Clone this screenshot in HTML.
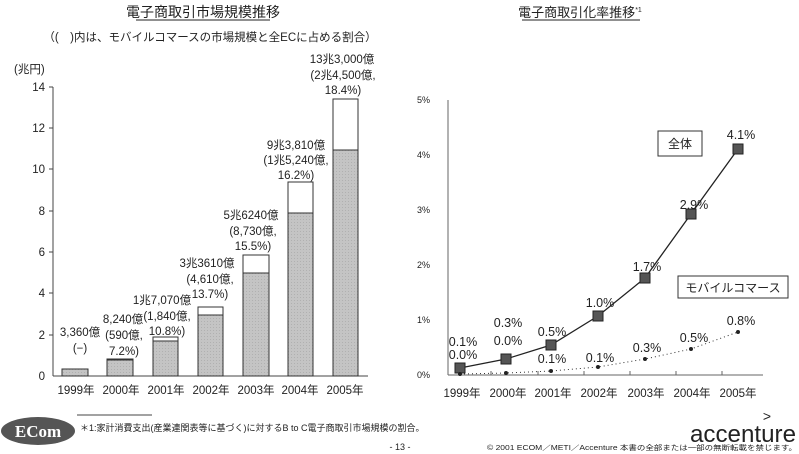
<!DOCTYPE html>
<html><head><meta charset="utf-8"><style>
body{margin:0;background:#fff;}
svg{display:block;font-family:"Liberation Sans","Noto Sans CJK JP",sans-serif;}
</style></head><body>
<svg width="799" height="454" viewBox="0 0 799 454">
<defs><pattern id="g" width="3" height="3" patternUnits="userSpaceOnUse"><rect width="3" height="3" fill="#c4c4c4"/><rect width="1" height="1" fill="#b0b0b0"/></pattern></defs>
<g fill="#222" font-size="12">
<text x="203" y="17" text-anchor="middle" font-size="14">電子商取引市場規模推移</text>
<line x1="136" y1="20" x2="270" y2="20" stroke="#222"/>
<text x="210" y="41" text-anchor="middle" font-size="11.5">（(　)内は、モバイルコマースの市場規模と全ECに占める割合）</text>
<text x="14" y="73" font-size="11.5">(兆円)</text>
</g>
<g stroke="#444" fill="none">
<line x1="53" y1="87" x2="53" y2="376"/><line x1="53" y1="376" x2="368" y2="376"/>
</g>
<g font-size="11.5" fill="#222" text-anchor="end">
<text x="45" y="380">0</text><text x="45" y="339">2</text><text x="45" y="297">4</text><text x="45" y="256">6</text><text x="45" y="215">8</text><text x="45" y="173">10</text><text x="45" y="132">12</text><text x="45" y="91">14</text>
</g>
<g stroke="#444"><line x1="49" y1="87" x2="53" y2="87"/><line x1="49" y1="128" x2="53" y2="128"/><line x1="49" y1="169" x2="53" y2="169"/><line x1="49" y1="211" x2="53" y2="211"/><line x1="49" y1="252" x2="53" y2="252"/><line x1="49" y1="293" x2="53" y2="293"/><line x1="49" y1="335" x2="53" y2="335"/></g>
<g stroke="#333" stroke-width="1">
<rect x="62" y="369" width="26" height="7" fill="url(#g)"/>
<rect x="107" y="359" width="26" height="17" fill="url(#g)"/><rect x="107" y="359" width="26" height="1" fill="#fff"/>
<rect x="153" y="341" width="25" height="35" fill="url(#g)"/><rect x="153" y="337" width="25" height="4" fill="#fff"/>
<rect x="198" y="315" width="25" height="61" fill="url(#g)"/><rect x="198" y="307" width="25" height="8" fill="#fff"/>
<rect x="243" y="273" width="26" height="103" fill="url(#g)"/><rect x="243" y="255" width="26" height="18" fill="#fff"/>
<rect x="288" y="213" width="25" height="163" fill="url(#g)"/><rect x="288" y="182" width="25" height="31" fill="#fff"/>
<rect x="333" y="150" width="25" height="226" fill="url(#g)"/><rect x="333" y="99" width="25" height="51" fill="#fff"/>
</g>
<g font-size="11.5" fill="#222" text-anchor="middle">
<text x="76" y="394">1999年</text><text x="121" y="394">2000年</text><text x="166" y="394">2001年</text><text x="211" y="394">2002年</text><text x="256" y="394">2003年</text><text x="300" y="394">2004年</text><text x="345" y="394">2005年</text>
<text x="80" y="336">3,360億</text><text x="80" y="352">(−)</text>
<text x="123" y="323">8,240億</text><text x="124" y="339">(590億,</text><text x="124" y="355">7.2%)</text>
<text x="162" y="304">1兆7,070億</text><text x="167" y="320">(1,840億,</text><text x="167" y="335">10.8%)</text>
<text x="207" y="267">3兆3610億</text><text x="210" y="283">(4,610億,</text><text x="210" y="298">13.7%)</text>
<text x="251" y="219">5兆6240億</text><text x="253" y="235">(8,730億,</text><text x="253" y="250">15.5%)</text>
<text x="296" y="149">9兆3,810億</text><text x="296" y="164">(1兆5,240億,</text><text x="296" y="179">16.2%)</text>
<text x="342" y="63">13兆3,000億</text><text x="343" y="79">(2兆4,500億,</text><text x="343" y="94">18.4%)</text>
</g>
<!-- right chart -->
<g fill="#222">
<text x="580" y="17" text-anchor="middle" font-size="13">電子商取引化率推移<tspan font-size="7" dy="-5">*1</tspan></text>
<line x1="522" y1="20" x2="640" y2="20" stroke="#222"/>
</g>
<g stroke="#666" fill="none"><line x1="448" y1="100" x2="448" y2="375"/><line x1="448" y1="375" x2="763" y2="375"/>
<line x1="491" y1="375" x2="491" y2="371"/><line x1="538" y1="375" x2="538" y2="371"/><line x1="584" y1="375" x2="584" y2="371"/><line x1="630" y1="375" x2="630" y2="371"/><line x1="676" y1="375" x2="676" y2="371"/><line x1="722" y1="375" x2="722" y2="371"/></g>
<g font-size="9" fill="#222" text-anchor="end">
<text x="430" y="378">0%</text><text x="430" y="323">1%</text><text x="430" y="268">2%</text><text x="430" y="213">3%</text><text x="430" y="158">4%</text><text x="430" y="103">5%</text>
</g>
<g font-size="11.5" fill="#222" text-anchor="middle">
<text x="462" y="397">1999年</text><text x="508" y="397">2000年</text><text x="553" y="397">2001年</text><text x="599" y="397">2002年</text><text x="646" y="397">2003年</text><text x="692" y="397">2004年</text><text x="738" y="397">2005年</text>
</g>
<polyline points="460,368 506,359 551,345 598,316 645,278 691,214 738,149" fill="none" stroke="#222" stroke-width="1.3"/>
<g fill="#555" stroke="#222"><rect x="455" y="363" width="10" height="10"/><rect x="501" y="354" width="10" height="10"/><rect x="546" y="340" width="10" height="10"/><rect x="593" y="311" width="10" height="10"/><rect x="640" y="273" width="10" height="10"/><rect x="686" y="209" width="10" height="10"/><rect x="733" y="144" width="10" height="10"/></g>
<polyline points="460,374 506,373 551,371 598,367 645,359 691,349 738,332" fill="none" stroke="#333" stroke-dasharray="1,3"/>
<g fill="#222"><circle cx="460" cy="374" r="2"/><circle cx="506" cy="373" r="2"/><circle cx="551" cy="371" r="2"/><circle cx="598" cy="367" r="2"/><circle cx="645" cy="359" r="2"/><circle cx="691" cy="349" r="2"/><circle cx="738" cy="332" r="2"/></g>
<g font-size="12.5" fill="#222" text-anchor="middle">
<text x="463" y="346">0.1%</text><text x="463" y="359">0.0%</text>
<text x="508" y="327">0.3%</text><text x="508" y="345">0.0%</text>
<text x="552" y="336">0.5%</text><text x="552" y="363">0.1%</text>
<text x="600" y="307">1.0%</text><text x="600" y="362">0.1%</text>
<text x="647" y="271">1.7%</text><text x="647" y="352">0.3%</text>
<text x="694" y="209">2.9%</text><text x="694" y="342">0.5%</text>
<text x="741" y="139">4.1%</text><text x="741" y="325">0.8%</text>
</g>
<rect x="658" y="131" width="44" height="25" fill="#fff" stroke="#333"/>
<text x="680" y="148" font-size="12" text-anchor="middle" fill="#222">全体</text>
<rect x="678" y="276" width="110" height="22" fill="#fff" stroke="#333"/>
<text x="733" y="292" font-size="12" text-anchor="middle" fill="#222">モバイルコマース</text>
<!-- footer -->
<line x1="77" y1="415" x2="152" y2="415" stroke="#444"/>
<ellipse cx="38" cy="431" rx="37" ry="14" fill="#555"/>
<text x="38" y="437" font-size="17" font-weight="bold" font-family="Liberation Serif,serif" fill="#fff" text-anchor="middle">ECom</text>
<text x="80" y="431" font-size="9" fill="#222">＊1:家計消費支出(産業連関表等に基づく)に対するB to C電子商取引市場規模の割合。</text>
<text x="400" y="450" font-size="9" fill="#222" text-anchor="middle">- 13 -</text>
<text x="487" y="450" font-size="7" fill="#222" textLength="310" lengthAdjust="spacingAndGlyphs">© 2001 ECOM／METI／Accenture 本書の全部または一部の無断転載を禁じます。</text>
<text x="690" y="442" font-size="24" fill="#222" textLength="106" lengthAdjust="spacingAndGlyphs">accenture</text>
<text x="767" y="421" font-size="14" fill="#222" text-anchor="middle">&gt;</text>
</svg>
</body></html>
